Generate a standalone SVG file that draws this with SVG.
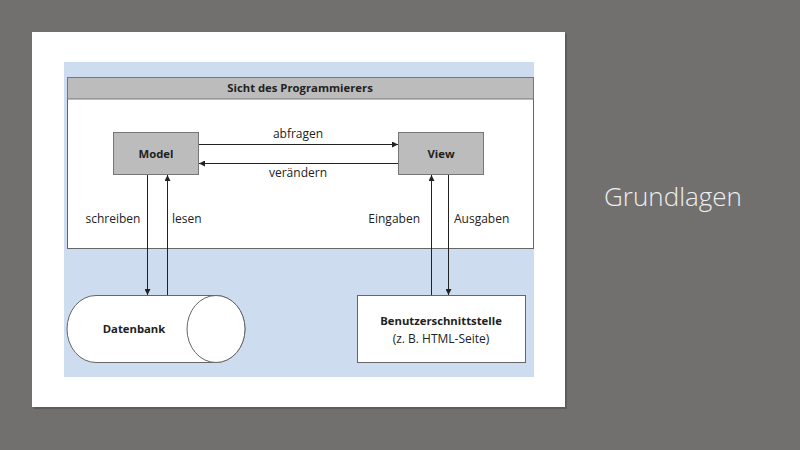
<svg xmlns="http://www.w3.org/2000/svg" width="800" height="450" viewBox="0 0 800 450">
  <defs>
    <style>
      .lbl { font-family: "Open Sans", "Liberation Sans", sans-serif; font-size: 12px; fill: #222; }
      .bold { font-family: "Open Sans", "Liberation Sans", sans-serif; font-size: 11.3px; font-weight: bold; fill: #222; }
      .box { fill: #bcbcbc; stroke: #777; stroke-width: 1; }
      .wbox { fill: #ffffff; stroke: #666; stroke-width: 1; }
      .conn { stroke: #222; stroke-width: 1; fill: none; }
    </style>
    <marker id="arr" viewBox="0 0 10 10" refX="10" refY="5" markerWidth="8" markerHeight="6" markerUnits="userSpaceOnUse" orient="auto">
      <path d="M0,0 L10,5 L0,10 z" fill="#222"/>
    </marker>
  </defs>
  <rect x="0" y="0" width="800" height="450" fill="#72706e"/>
  <!-- card -->
  <rect x="34" y="34" width="533" height="375" fill="#5e5c5b"/>
  <rect x="32" y="32" width="533" height="375" fill="#ffffff"/>
  <rect x="64" y="62" width="470" height="315" fill="#cddcee"/>
  <text x="673" y="206" text-anchor="middle" style="font-family:'Open Sans','Liberation Sans',sans-serif;font-size:26px;font-weight:300;fill:#eeeeee">Grundlagen</text>

  <g id="frame">
    <rect x="67.5" y="77.5" width="466" height="171" class="wbox" stroke="#888"/>
    <rect x="67.5" y="77.5" width="466" height="21.5" fill="#bcbcbc" stroke="#777"/>
    <text x="300" y="92" text-anchor="middle" class="bold">Sicht des Programmierers</text>
  </g>
  <g id="model">
    <rect x="113.5" y="132.5" width="85" height="42" class="box"/>
    <text x="156" y="157.5" text-anchor="middle" class="bold">Model</text>
  </g>
  <g id="view">
    <rect x="398.5" y="132.5" width="85" height="42" class="box"/>
    <text x="441" y="157.5" text-anchor="middle" class="bold">View</text>
  </g>
  <g id="datenbank">
    <path d="M96,295.5 H216 A29,33.5 0 0 1 216,362.5 H96 A29,33.5 0 0 1 96,295.5 Z" fill="#ffffff" stroke="#666"/>
    <ellipse cx="216" cy="329" rx="29" ry="33.5" fill="#ffffff" stroke="#666"/>
    <text x="134" y="333" text-anchor="middle" class="bold">Datenbank</text>
  </g>
  <g id="ui">
    <rect x="357.5" y="295.5" width="168" height="67" class="wbox"/>
    <text x="441" y="325" text-anchor="middle" class="bold">Benutzerschnittstelle</text>
    <text x="441" y="343" text-anchor="middle" class="lbl">(z. B. HTML-Seite)</text>
  </g>
  <g id="connectors">
    <line x1="199" y1="144.5" x2="398" y2="144.5" class="conn" marker-end="url(#arr)"/>
    <line x1="398" y1="163.5" x2="199" y2="163.5" class="conn" marker-end="url(#arr)"/>
    <line x1="147.5" y1="175" x2="147.5" y2="295" class="conn" marker-end="url(#arr)"/>
    <line x1="167.5" y1="295" x2="167.5" y2="175" class="conn" marker-end="url(#arr)"/>
    <line x1="431.5" y1="295" x2="431.5" y2="175" class="conn" marker-end="url(#arr)"/>
    <line x1="448.5" y1="175" x2="448.5" y2="295" class="conn" marker-end="url(#arr)"/>
    <text x="298" y="138" text-anchor="middle" class="lbl">abfragen</text>
    <text x="298" y="177" text-anchor="middle" class="lbl">verändern</text>
    <text x="113" y="223" text-anchor="middle" class="lbl">schreiben</text>
    <text x="172" y="223" class="lbl">lesen</text>
    <text x="420" y="223" text-anchor="end" class="lbl">Eingaben</text>
    <text x="454" y="223" class="lbl">Ausgaben</text>
  </g>
</svg>
